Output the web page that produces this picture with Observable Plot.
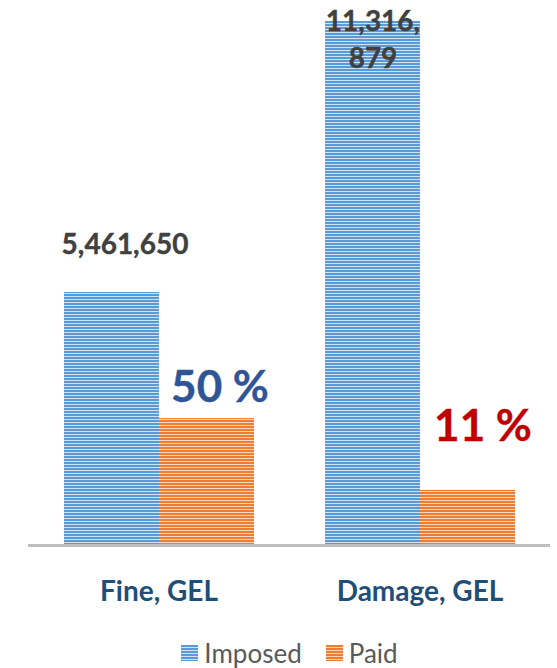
<!DOCTYPE html>
<html><head><meta charset="utf-8">
<script src="https://cdn.jsdelivr.net/npm/d3@7"></script>
<script src="https://cdn.jsdelivr.net/npm/@observablehq/plot@0.6"></script>
<style>
body{margin:0;background:#fff;font-family:Lato,sans-serif;}
#legend{display:flex;justify-content:center;align-items:center;height:38px;padding-top:4px;padding-left:22px;color:#595959;font-size:26px;}
.item{display:flex;align-items:center;margin:0 12px;}
.sw{width:17px;height:16px;margin-right:6px;}
</style></head><body><div id="chart"></div><div id="legend"></div>
<script>
const categories = ["Fine, GEL", "Damage, GEL"];
const series = ["Imposed", "Paid"];
const imposed = [5461650, 11316879];
const paid = [2740000, 1190000];
const imposedLabels = ["5,461,650", "11,316,\n879"];
const paidShareLabels = ["50 %", "11 %"];
const seriesColors = ["#5b9bd5", "#ed7d31"];
const seriesLight = ["#cfe1f3", "#f9d5bd"];
const shareColors = ["#2f5597", "#c00000"];

const data = categories.flatMap((c, i) => [
  {category: c, series: series[0], value: imposed[i], label: imposedLabels[i]},
  {category: c, series: series[1], value: paid[i], label: paidShareLabels[i]}
]);
const pick = (s, c) => data.filter(d => d.series === s && d.category === c);

const W = 557, H = 630, base = 545;
const txt = {fx: "category", x: "series", y: "value", text: "label", lineAnchor: "bottom", fontWeight: "bold", strokeWidth: 0.4};
const plot = Plot.plot({
  width: W, height: H,
  marginLeft: 28, marginRight: 7, marginTop: 0, marginBottom: H - base,
  fx: {domain: categories, padding: 0, label: null},
  x: {domain: series, paddingInner: 0, paddingOuter: 0.37, axis: null},
  y: {domain: [0, 11765000], axis: null},
  color: {domain: series, range: series.map((s, i) => `url(#stripe-${i})`)},
  style: {fontFamily: "Lato, sans-serif", background: "white"},
  marks: [
    Plot.barY(data, {fx: "category", x: "series", y: "value", fill: "series"}),
    Plot.ruleY([0], {stroke: "#bfbfbf", strokeWidth: 3}),
    Plot.axisFx({anchor: "bottom", tickSize: 0, tickPadding: 36, fontSize: 28, fontWeight: "bold", color: "#1f4e79", label: null}),
    Plot.text(pick(series[0], categories[0]), {...txt, dy: -38, dx: 13, fontSize: 28, fill: "#404040", stroke: "#404040"}),
    Plot.text(pick(series[0], categories[1]), {...txt, dy: 47, fontSize: 28, lineHeight: 1.34, fill: "#404040", stroke: "#404040"}),
    Plot.text(pick(series[1], categories[0]), {...txt, dy: -17, dx: 13, fontSize: 44, fill: shareColors[0], stroke: shareColors[0]}),
    Plot.text(pick(series[1], categories[1]), {...txt, dy: -49, dx: 15, fontSize: 44, fill: shareColors[1], stroke: shareColors[1]})
  ]
});
const defs = d3.select(plot).insert("defs", ":first-child");
series.forEach((s, i) => {
  const p = defs.append("pattern").attr("id", `stripe-${i}`).attr("patternUnits", "userSpaceOnUse").attr("width", 6).attr("height", 3);
  p.append("rect").attr("width", 6).attr("height", 3).attr("fill", seriesLight[i]);
  p.append("rect").attr("width", 6).attr("height", 2).attr("fill", seriesColors[i]);
});
document.getElementById("chart").append(plot);

const legend = d3.select("#legend");
series.forEach((s, i) => {
  const it = legend.append("div").attr("class", "item");
  it.append("div").attr("class", "sw")
    .style("background", `repeating-linear-gradient(to bottom, ${seriesColors[i]} 0 2px, ${seriesLight[i]} 2px 3px)`);
  it.append("span").text(s);
});
</script></body></html>
